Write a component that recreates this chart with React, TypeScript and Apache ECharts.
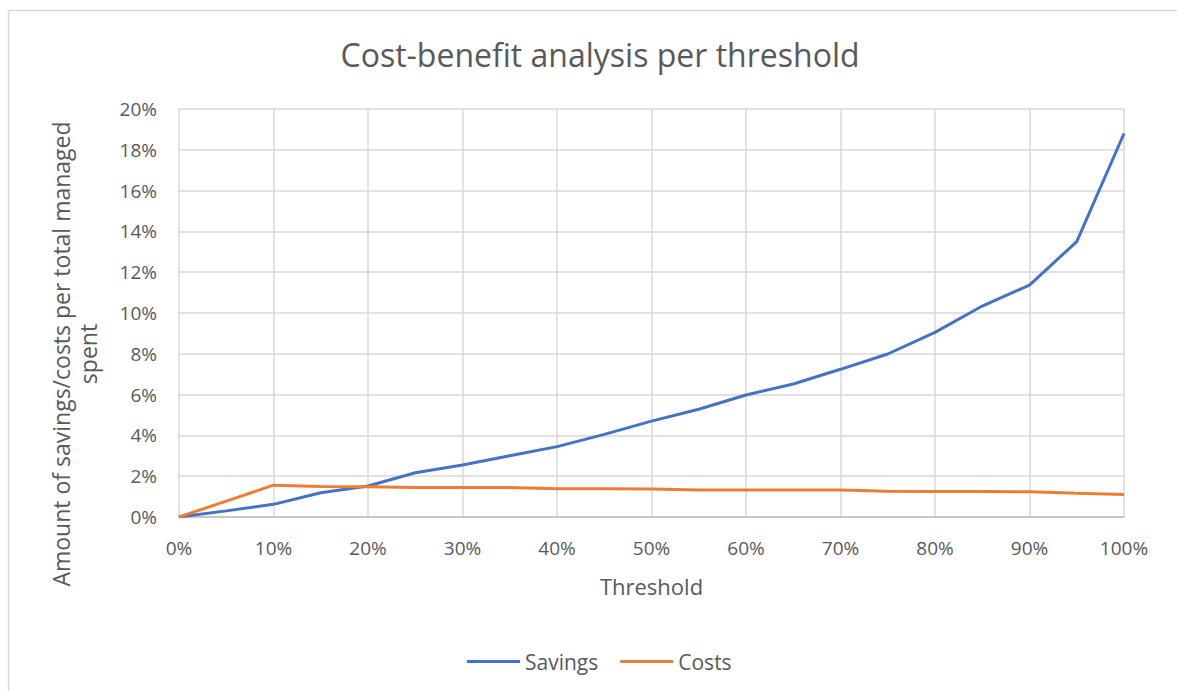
import React, { useEffect, useRef } from "react";
import * as echarts from "echarts";

const thresholds = [0, 5, 10, 15, 20, 25, 30, 35, 40, 45, 50, 55, 60, 65, 70, 75, 80, 85, 90, 95, 100];
const savings = [0, 0.3, 0.62, 1.19, 1.52, 2.17, 2.55, 3.0, 3.45, 4.05, 4.7, 5.28, 5.98, 6.52, 7.24, 7.99, 9.05, 10.34, 11.37, 13.5, 18.8];
const costs = [0, 0.78, 1.56, 1.49, 1.48, 1.44, 1.44, 1.44, 1.39, 1.38, 1.37, 1.32, 1.32, 1.32, 1.32, 1.26, 1.25, 1.25, 1.24, 1.16, 1.1];

const title = "Cost-benefit analysis per threshold";
const xName = "Threshold";
const yNameLines = ["Amount of savings/costs per total managed", "spent"];
const seriesNames = ["Savings", "Costs"];

const FONT = "'Open Sans', sans-serif";
const TEXT = "#595959";

export default function App() {
  const ref = useRef<HTMLDivElement>(null);
  useEffect(() => {
    if (!ref.current) return;
    const chart = echarts.init(ref.current, undefined, { renderer: "svg" });
    chart.setOption({
      animation: false,
      backgroundColor: "#ffffff",
      textStyle: { fontFamily: FONT, color: TEXT },
      title: {
        text: title,
        left: 595,
        top: 33,
        textAlign: "center",
        textStyle: { fontFamily: FONT, fontSize: 32, fontWeight: "normal", color: TEXT },
      },
      grid: { left: 179, top: 109, right: 53, bottom: 174, containLabel: false },
      legend: {
        data: seriesNames,
        left: 462,
        top: 646,
        itemWidth: 53,
        itemHeight: 3,
        itemGap: 22,
        icon: "rect",
        textStyle: { fontFamily: FONT, fontSize: 21, color: TEXT },
      },
      xAxis: {
        type: "value",
        min: 0,
        max: 100,
        interval: 10,
        name: xName,
        nameLocation: "middle",
        nameGap: 58,
        nameTextStyle: { fontFamily: FONT, fontSize: 22, color: TEXT },
        axisLine: { show: true, lineStyle: { color: "#bfbfbf", width: 1.5 } },
        axisTick: { show: false },
        axisLabel: { formatter: "{value}%", fontFamily: FONT, fontSize: 19, color: TEXT, margin: 21 },
        splitLine: { show: true, lineStyle: { color: "#d9d9d9", width: 1.5 } },
      },
      yAxis: {
        type: "value",
        min: 0,
        max: 20,
        interval: 2,
        axisLine: { show: false },
        axisTick: { show: false },
        axisLabel: { formatter: "{value}%", fontFamily: FONT, fontSize: 19, color: TEXT, margin: 22 },
        splitLine: { show: true, lineStyle: { color: "#d9d9d9", width: 1.5 } },
      },
      graphic: [
        {
          type: "line",
          shape: { x1: 8.5, y1: 10.5, x2: 1177, y2: 10.5 },
          style: { stroke: "#d9d9d9", lineWidth: 1.5 },
          silent: true,
        },
        {
          type: "line",
          shape: { x1: 8.5, y1: 10.5, x2: 8.5, y2: 691 },
          style: { stroke: "#d9d9d9", lineWidth: 1.5 },
          silent: true,
        },
        {
          type: "text",
          x: 61,
          y: 354,
          rotation: Math.PI / 2,
          style: {
            text: yNameLines[0],
            fontFamily: FONT,
            fontSize: 23,
            fill: TEXT,
            align: "center",
            verticalAlign: "middle",
          },
        },
        {
          type: "text",
          x: 88,
          y: 354,
          rotation: Math.PI / 2,
          style: {
            text: yNameLines[1],
            fontFamily: FONT,
            fontSize: 23,
            fill: TEXT,
            align: "center",
            verticalAlign: "middle",
          },
        },
      ],
      series: [
        {
          name: seriesNames[0],
          type: "line",
          data: thresholds.map((t, i) => [t, savings[i]]),
          showSymbol: false,
          symbol: "none",
          lineStyle: { color: "#4472C4", width: 3 },
          itemStyle: { color: "#4472C4" },
        },
        {
          name: seriesNames[1],
          type: "line",
          data: thresholds.map((t, i) => [t, costs[i]]),
          showSymbol: false,
          symbol: "none",
          lineStyle: { color: "#ED7D31", width: 3 },
          itemStyle: { color: "#ED7D31" },
        },
      ],
    });
    return () => chart.dispose();
  }, []);
  return (
    <div
      ref={ref}
      style={{ position: "absolute", left: 0, top: 0, width: 1177, height: 691 }}
    />
  );
}
